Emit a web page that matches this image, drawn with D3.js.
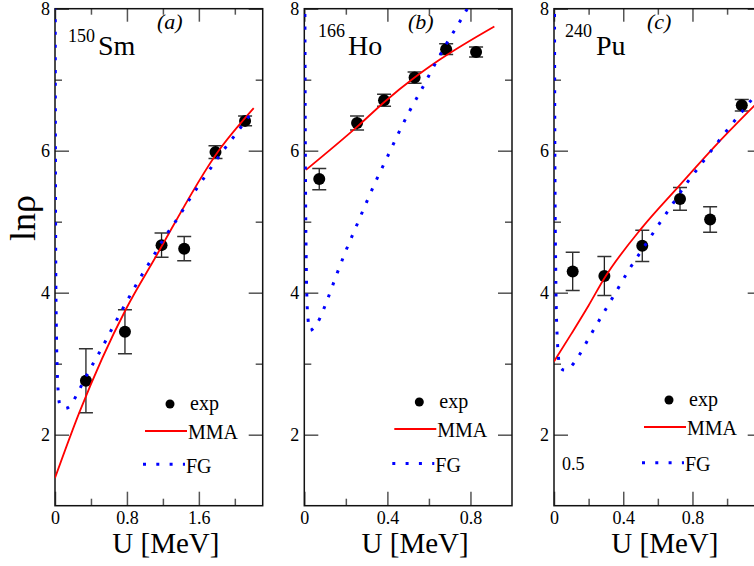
<!DOCTYPE html>
<html>
<head>
<meta charset="utf-8">
<script src="https://cdn.jsdelivr.net/npm/d3@7"></script>
<style>
  body { margin: 0; background: #fff; }
  svg { display: block; }
  svg text { font-family: "Liberation Serif", "Times New Roman", "DejaVu Serif", serif; }
</style>
</head>
<body>
<script>
// ---- data (U in MeV, ln rho) ----
// (a) 150Sm
const smExpU = [0.344, 0.778, 1.185, 1.437, 1.785, 2.114];
const smExpV = [2.76, 3.45, 4.67, 4.62, 5.98, 6.42];
const smExpErr = [0.45, 0.31, 0.17, 0.17, 0.09, 0.07];
const smMmaU = [0, 0.27, 0.79, 1.10, 1.82, 2.21];
const smMmaV = [1.39, 2.31, 3.77, 4.46, 6.0, 6.6];
const smFgU = [0.001, 0.004, 0.008, 0.015, 0.025, 0.037, 0.055, 0.11, 0.167, 0.24, 0.37, 0.508, 0.641, 0.778, 0.915, 1.063, 1.21, 1.37, 1.52, 1.686, 1.84, 2.02, 2.19];
const smFgV = [10, 6.5, 4.5, 3.5, 2.9, 2.58, 2.42, 2.37, 2.40, 2.56, 2.88, 3.19, 3.51, 3.83, 4.14, 4.45, 4.76, 5.06, 5.36, 5.67, 5.95, 6.25, 6.54];

// (b) 166Ho
const hoExpU = [0.072, 0.254, 0.384, 0.531, 0.683, 0.827];
const hoExpV = [5.60, 6.39, 6.71, 7.03, 7.43, 7.39];
const hoExpErr = [0.15, 0.10, 0.085, 0.08, 0.075, 0.07];
const hoMmaU = [0.008, 0.259, 0.387, 0.531, 0.651, 0.915];
const hoMmaV = [5.73, 6.35, 6.69, 7.03, 7.28, 7.75];
const hoFgU = [0.002, 0.005, 0.009, 0.015, 0.027, 0.064, 0.112, 0.155, 0.2, 0.248, 0.296, 0.344, 0.398, 0.451, 0.507, 0.566, 0.622, 0.683, 0.747, 0.779, 0.82];
const hoFgV = [9, 6, 4.5, 3.75, 3.47, 3.58, 3.91, 4.25, 4.59, 4.92, 5.25, 5.57, 5.90, 6.23, 6.56, 6.87, 7.18, 7.50, 7.81, 7.97, 8.2];

// (c) 240Pu
const puExpU = [0.108, 0.291, 0.51, 0.728, 0.902, 1.085];
const puExpV = [4.30, 4.235, 4.66, 5.32, 5.03, 6.64];
const puExpErr = [0.27, 0.275, 0.22, 0.16, 0.18, 0.08];
const puMmaU = [0, 0.1, 0.2, 0.29, 0.51, 0.71, 0.94, 1.16];
const puMmaV = [3.03, 3.42, 3.82, 4.2, 4.92, 5.47, 6.09, 6.64];
const puFgU = [0.002, 0.005, 0.01, 0.018, 0.035, 0.06, 0.089, 0.135, 0.208, 0.285, 0.358, 0.435, 0.516, 0.597, 0.68, 0.763, 0.85, 0.94, 1.033, 1.123, 1.2];
const puFgV = [9, 6, 4.3, 3.4, 2.95, 2.91, 2.94, 3.08, 3.39, 3.71, 4.01, 4.33, 4.63, 4.93, 5.23, 5.53, 5.81, 6.10, 6.39, 6.66, 6.9];

// ticks
const yMajor = [2, 4, 6, 8];
const yMinor = [3, 5, 7];
const legendLabels = ["exp", "MMA", "FG"];

const serif = "Liberation Serif, Times New Roman, DejaVu Serif, serif";
const w = 754, h = 566;
const plotTop = 8.7, plotBottom = 505.7, panelW = 207.7;

const panels = [
  { left: 55, xMax: 2.31, major: [0, 0.8, 1.6], minor: [0.4, 1.2, 2.0], tag: "(a)", tagX: 157,
    mass: "150", el: "Sm", massX: 68, massY: 42, elX: 98, legDy: 0,
    expU: smExpU, expV: smExpV, expErr: smExpErr, mmaU: smMmaU, mmaV: smMmaV, fgU: smFgU, fgV: smFgV },
  { left: 304.3, xMax: 1.0, major: [0, 0.4, 0.8], minor: [0.2, 0.6], tag: "(b)", tagX: 408,
    mass: "166", el: "Ho", massX: 318, massY: 37, elX: 348, legDy: -2,
    expU: hoExpU, expV: hoExpV, expErr: hoExpErr, mmaU: hoMmaU, mmaV: hoMmaV, fgU: hoFgU, fgV: hoFgV },
  { left: 554, xMax: 1.2, major: [0, 0.4, 0.8], minor: [0.2, 0.6, 1.0], tag: "(c)", tagX: 647,
    mass: "240", el: "Pu", massX: 565, massY: 37, elX: 596, legDy: -4,
    expU: puExpU, expV: puExpV, expErr: puExpErr, mmaU: puMmaU, mmaV: puMmaV, fgU: puFgU, fgV: puFgV }
];

const svg = d3.select("body").append("svg")
  .attr("width", w)
  .attr("height", h)
  .attr("font-family", serif);

const y = d3.scaleLinear().domain([1, 8]).range([plotBottom, plotTop]);
const fmt = d => d === 0 ? "0" : d3.format(".1f")(d);

panels.forEach((p, i) => {
  const right = p.left + panelW;
  const x = d3.scaleLinear().domain([0, p.xMax]).range([p.left, right]);
  const g = svg.append("g");

  const clipId = "clip" + i;
  svg.append("clipPath").attr("id", clipId)
    .append("rect")
    .attr("x", p.left).attr("y", plotTop)
    .attr("width", panelW).attr("height", plotBottom - plotTop);

  // axes: ticks point inward
  const styleAxis = sel => {
    sel.attr("font-family", serif).attr("font-size", 18);
    sel.select(".domain").remove();
    sel.selectAll(".tick line").attr("stroke", "#555").attr("stroke-width", 1.5);
    sel.selectAll(".tick text").attr("fill", "#000");
  };
  g.append("g").attr("transform", `translate(${p.left},0)`)
    .call(d3.axisLeft(y).tickValues(yMajor).tickSize(-14).tickPadding(5).tickFormat(d3.format("d")))
    .call(styleAxis);
  g.append("g").attr("transform", `translate(${p.left},0)`)
    .call(d3.axisLeft(y).tickValues(yMinor).tickSize(-7).tickFormat(""))
    .call(styleAxis);
  g.append("g").attr("transform", `translate(${right},0)`)
    .call(d3.axisRight(y).tickValues(yMajor).tickSize(-14).tickFormat(""))
    .call(styleAxis);
  g.append("g").attr("transform", `translate(${right},0)`)
    .call(d3.axisRight(y).tickValues(yMinor).tickSize(-7).tickFormat(""))
    .call(styleAxis);
  g.append("g").attr("transform", `translate(0,${plotBottom})`)
    .call(d3.axisBottom(x).tickValues(p.major).tickSize(-14).tickPadding(6).tickFormat(fmt))
    .call(styleAxis);
  g.append("g").attr("transform", `translate(0,${plotBottom})`)
    .call(d3.axisBottom(x).tickValues(p.minor).tickSize(-7).tickFormat(""))
    .call(styleAxis);
  g.append("g").attr("transform", `translate(0,${plotTop})`)
    .call(d3.axisTop(x).tickValues(p.major).tickSize(-13).tickFormat(""))
    .call(styleAxis);
  g.append("g").attr("transform", `translate(0,${plotTop})`)
    .call(d3.axisTop(x).tickValues(p.minor).tickSize(-6).tickFormat(""))
    .call(styleAxis);

  // frame
  g.append("rect")
    .attr("x", p.left).attr("y", plotTop)
    .attr("width", panelW).attr("height", plotBottom - plotTop)
    .attr("fill", "none").attr("stroke", "#111").attr("stroke-width", 1.5);

  const plot = g.append("g").attr("clip-path", `url(#${clipId})`);

  // experimental points with error bars
  const exp = p.expU.map((u, k) => ({ u: u, v: p.expV[k], e: p.expErr[k] }));
  plot.selectAll(".err").data(exp).enter().append("line")
    .attr("x1", d => x(d.u)).attr("x2", d => x(d.u))
    .attr("y1", d => y(d.v - d.e)).attr("y2", d => y(d.v + d.e))
    .attr("stroke", "#222").attr("stroke-width", 1.3);
  [-1, 1].forEach(s => {
    plot.selectAll(".cap" + s).data(exp).enter().append("line")
      .attr("x1", d => x(d.u) - 7).attr("x2", d => x(d.u) + 7)
      .attr("y1", d => y(d.v + s * d.e)).attr("y2", d => y(d.v + s * d.e))
      .attr("stroke", "#333").attr("stroke-width", 1.5);
  });
  plot.selectAll(".dot").data(exp).enter().append("circle")
    .attr("cx", d => x(d.u)).attr("cy", d => y(d.v))
    .attr("r", 6).attr("fill", "#000");

  // MMA (red) and FG (blue dotted)
  const line = d3.line().x(d => x(d[0])).y(d => y(d[1])).curve(d3.curveMonotoneX);
  plot.append("path")
    .attr("d", line(p.mmaU.map((u, k) => [u, p.mmaV[k]])))
    .attr("fill", "none").attr("stroke", "#ff0000").attr("stroke-width", 1.8);
  plot.append("path")
    .attr("d", line(p.fgU.map((u, k) => [u, p.fgV[k]])))
    .attr("fill", "none").attr("stroke", "#0000ff").attr("stroke-width", 3)
    .attr("stroke-dasharray", "3,9.7");

  // legend
  const lx = p.left;
  const ly = p.legDy;
  g.append("circle").attr("cx", lx + 115).attr("cy", 404 + ly).attr("r", 4.5).attr("fill", "#000");
  g.append("text").attr("x", lx + 135).attr("y", 410 + ly).text(legendLabels[0]).attr("font-size", 20);
  g.append("line").attr("x1", lx + 90).attr("x2", lx + 132).attr("y1", 431 + ly).attr("y2", 431 + ly)
    .attr("stroke", "#ff0000").attr("stroke-width", 1.8);
  g.append("text").attr("x", lx + 133).attr("y", 439 + ly).text(legendLabels[1]).attr("font-size", 20);
  g.append("line").attr("x1", lx + 88).attr("x2", lx + 130).attr("y1", 464.3 + ly * 0.4).attr("y2", 464.3 + ly * 0.4)
    .attr("stroke", "#0000ff").attr("stroke-width", 3).attr("stroke-dasharray", "3,10.3");
  g.append("text").attr("x", lx + 131).attr("y", 472.5 + ly * 0.4).text(legendLabels[2]).attr("font-size", 20);

  // panel tag and nucleus
  g.append("text").attr("x", p.tagX).attr("y", 29).text(p.tag)
    .attr("font-size", 22).attr("font-style", "italic");
  g.append("text").attr("x", p.massX).attr("y", p.massY).text(p.mass).attr("font-size", 18);
  g.append("text").attr("x", p.elX).attr("y", 55).text(p.el).attr("font-size", 28);

  // x title
  g.append("text")
    .attr("x", p.left + panelW / 2 + 7).attr("y", 553)
    .attr("text-anchor", "middle")
    .text("U [MeV]").attr("font-size", 29);
});

svg.append("text").attr("x", 562).attr("y", 470).text("0.5").attr("font-size", 18);

svg.append("text")
  .attr("transform", "translate(35,218) rotate(-90)")
  .attr("text-anchor", "middle")
  .text("lnρ").attr("font-size", 36);
</script>
</body>
</html>
